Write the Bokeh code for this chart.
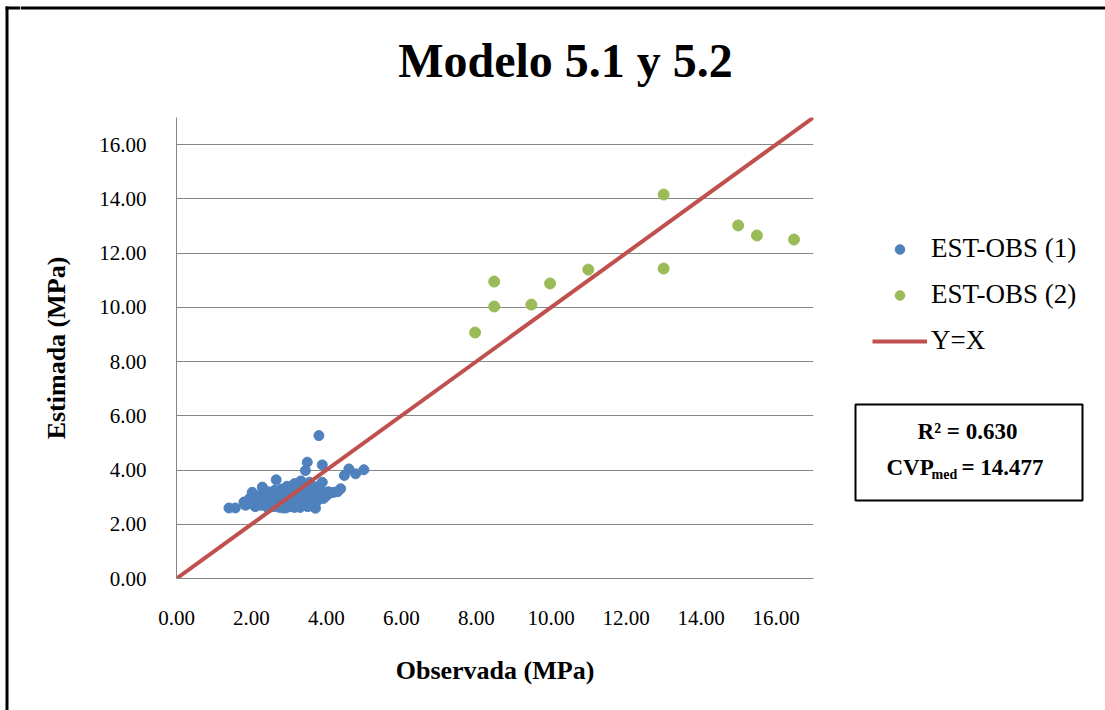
from bokeh.plotting import figure
from bokeh.layouts import column, row
from bokeh.models import (Legend, LegendItem, FixedTicker, NumeralTickFormatter, Range1d)
from bokeh.core.properties import value
from bokeh.embed import file_html
from bokeh.resources import INLINE

# ---- data ----
obs1 = [1.40, 1.57, 1.80, 1.84, 1.95, 2.02, 2.05, 2.10, 2.15, 2.20, 2.25, 2.29, 2.30, 2.35,
        2.40, 2.42, 2.45, 2.50, 2.55, 2.60, 2.62, 2.66, 2.70, 2.72, 2.75, 2.80, 2.82, 2.85,
        2.90, 2.92, 2.95, 3.00, 3.02, 3.05, 3.10, 3.12, 3.15, 3.18, 3.20, 3.25, 3.28, 3.30,
        3.32, 3.35, 3.38, 3.40, 3.42, 3.44, 3.45, 3.49, 3.50, 3.52, 3.55, 3.58, 3.60, 3.62,
        3.65, 3.70, 3.71, 3.75, 3.78, 3.80, 3.82, 3.85, 3.89, 3.89, 3.92, 3.95, 4.00, 4.05,
        4.10, 4.20, 4.30, 4.38, 4.48, 4.60, 4.78, 5.00, 2.50, 2.60, 2.75, 2.90, 3.00, 3.10,
        3.20, 3.30, 3.40, 3.60, 3.70, 2.35, 2.20, 1.90, 2.00, 2.45, 2.85, 3.15, 3.50, 3.65]
est1 = [2.60, 2.60, 2.82, 2.70, 2.95, 3.18, 2.75, 2.65, 2.90, 3.05, 2.70, 3.37, 2.85, 3.10,
        2.65, 2.95, 3.20, 2.75, 3.00, 2.65, 3.25, 3.64, 2.85, 3.10, 2.62, 3.30, 2.95, 2.70,
        3.15, 2.60, 3.40, 2.80, 3.05, 2.65, 3.25, 2.90, 3.50, 2.70, 3.10, 2.95, 3.35, 2.62,
        3.60, 2.80, 3.15, 3.00, 3.45, 3.98, 2.70, 4.29, 3.25, 2.90, 3.55, 3.10, 2.75, 3.35,
        3.00, 3.20, 2.59, 2.85, 3.40, 5.27, 3.05, 3.25, 3.55, 4.19, 2.95, 3.15, 3.05, 3.20,
        3.15, 3.18, 3.20, 3.31, 3.80, 4.04, 3.86, 4.01, 2.90, 3.10, 3.00, 2.85, 3.20, 3.00,
        3.30, 3.10, 2.85, 3.05, 2.95, 2.78, 2.82, 2.75, 2.85, 2.60, 2.60, 2.62, 2.65, 2.65]

obs2 = [7.97, 8.48, 8.48, 9.47, 9.97, 10.99, 13.00, 13.00, 14.99, 15.49, 16.48]
est2 = [9.07, 10.95, 10.03, 10.10, 10.88, 11.39, 11.43, 14.16, 13.02, 12.65, 12.50]

yx_x = [0.0, 17.0]
yx_y = [0.0, 17.0]

axis_ticks = [0, 2, 4, 6, 8, 10, 12, 14, 16]

title_text = "Modelo 5.1 y 5.2"
xlabel = "Observada (MPa)"
ylabel = "Estimada (MPa)"
series_names = ["EST-OBS (1)", "EST-OBS (2)", "Y=X"]
r2_text = "R\u00b2 = 0.630"
cvp_main, cvp_sub, cvp_val = "CVP", "med", "= 14.477"

BLUE = "#4F81BD"
GREEN = "#9BBB59"
RED = "#C0504D"
GRID = "#868686"
FONT = "Liberation Serif"

W, H = 1105, 710
TOP_H = 117      # height of the title strip
STRIP_W = 20     # left border strip
SIDE_W = 265     # legend / statistics strip
MAIN_W = W - STRIP_W - SIDE_W
LOW_H = H - TOP_H
FRAME_L, FRAME_R, FRAME_B = 176, 813, 578
OFF = -1000      # legend proxies sit outside the visible strip


def blank(width, height, x0, x1, y0, y1, bottom=0):
    f = figure(width=width, height=height, output_backend="svg", toolbar_location=None,
               x_range=Range1d(x0, x1), y_range=Range1d(y1, y0), x_axis_type=None,
               y_axis_type=None, min_border=0, min_border_bottom=bottom, title=None)
    f.outline_line_color = None
    f.grid.visible = False
    f.background_fill_color = "white"
    f.border_fill_color = "white"
    return f


# ---- left border strip (full height, pixel coordinates) ----
left = blank(STRIP_W, H, 0, STRIP_W, 0, H)
left.segment(x0=[6.5], y0=[6], x1=[6.5], y1=[H], line_color="black", line_width=3)
left.segment(x0=[5], y0=[7.5], x1=[STRIP_W], y1=[7.5], line_color="black", line_width=3)

# ---- title strip ----
top = blank(W - STRIP_W, TOP_H, STRIP_W, W, 0, TOP_H)
top.segment(x0=[STRIP_W], y0=[7.5], x1=[W], y1=[7.5], line_color="black", line_width=3)
top.text(x=[565], y=[60], text=[title_text], text_font=value(FONT), text_font_size="48px",
         text_font_style="bold", text_align="center", text_baseline="middle",
         text_color="black")

# ---- main chart ----
p = figure(width=MAIN_W, height=LOW_H, output_backend="svg", toolbar_location=None,
           x_range=Range1d(0, 17), y_range=Range1d(0, 17), title=None,
           min_border_left=FRAME_L - STRIP_W, min_border_right=STRIP_W + MAIN_W - FRAME_R,
           min_border_top=0, min_border_bottom=H - FRAME_B)
p.outline_line_color = None
p.background_fill_color = "white"
p.border_fill_color = "white"

r1 = p.scatter(obs1, est1, size=10, color=BLUE, line_color=BLUE)
r2 = p.scatter(obs2, est2, size=11, color=GREEN, line_color=GREEN)
r3 = p.line(yx_x, yx_y, line_color=RED, line_width=4)

for ax in (p.xaxis[0], p.yaxis[0]):
    ax.ticker = FixedTicker(ticks=axis_ticks)
    ax.formatter = NumeralTickFormatter(format="0.00")
    ax.major_tick_line_color = None
    ax.minor_tick_line_color = None
    ax.axis_line_color = GRID
    ax.axis_line_width = 1
    ax.major_label_text_font = FONT
    ax.major_label_text_font_size = "21px"
    ax.major_label_text_color = "black"
    ax.axis_label_text_font = FONT
    ax.axis_label_text_font_size = "26px"
    ax.axis_label_text_font_style = "bold"
    ax.axis_label_text_color = "black"

p.xaxis[0].axis_label = xlabel
p.yaxis[0].axis_label = ylabel
p.xaxis[0].major_label_standoff = 26
p.yaxis[0].major_label_standoff = 24
p.xaxis[0].axis_label_standoff = 28
p.yaxis[0].axis_label_standoff = 25

p.xgrid.visible = False
p.ygrid.ticker = FixedTicker(ticks=axis_ticks)
p.ygrid.grid_line_color = GRID
p.ygrid.grid_line_width = 1

# ---- legend / statistics strip (frame aligned with the chart: y from TOP_H to FRAME_B) ----
side = blank(SIDE_W, LOW_H, W - SIDE_W, W, TOP_H, FRAME_B, bottom=H - FRAME_B)
k1 = side.scatter([OFF], [OFF], size=10, color=BLUE, line_color=BLUE)
k2 = side.scatter([OFF], [OFF], size=10, color=GREEN, line_color=GREEN)
k3 = side.line([OFF, OFF - 1], [OFF, OFF - 1], line_color=RED, line_width=4)
legend = Legend(items=[LegendItem(label=series_names[0], renderers=[k1]),
                       LegendItem(label=series_names[1], renderers=[k2]),
                       LegendItem(label=series_names[2], renderers=[k3])],
                location=(32, 222), glyph_width=55, glyph_height=24, label_standoff=4,
                spacing=15, padding=0, margin=0, border_line_color=None,
                background_fill_alpha=0, label_text_font=FONT, label_text_font_size="27px",
                label_text_color="black")
side.add_layout(legend, "center")

side.quad(left=[855], right=[1082], top=[404], bottom=[500], fill_color="white",
          line_color="black", line_width=2)
side.text(x=[967], y=[431], text=[r2_text], text_font=value(FONT), text_font_size="23px",
          text_font_style="bold", text_align="center", text_baseline="middle",
          text_color="black")
side.text(x=[886], y=[467], text=[cvp_main], text_font=value(FONT), text_font_size="23px",
          text_font_style="bold", text_align="left", text_baseline="middle",
          text_color="black")
side.text(x=[931], y=[474], text=[cvp_sub], text_font=value(FONT), text_font_size="14px",
          text_font_style="bold", text_align="left", text_baseline="middle",
          text_color="black")
side.text(x=[961], y=[467], text=[cvp_val], text_font=value(FONT), text_font_size="23px",
          text_font_style="bold", text_align="left", text_baseline="middle",
          text_color="black")

layout = row(left, column(top, row(p, side, spacing=0), spacing=0), spacing=0)
open("out.html", "w").write(file_html(layout, INLINE))
